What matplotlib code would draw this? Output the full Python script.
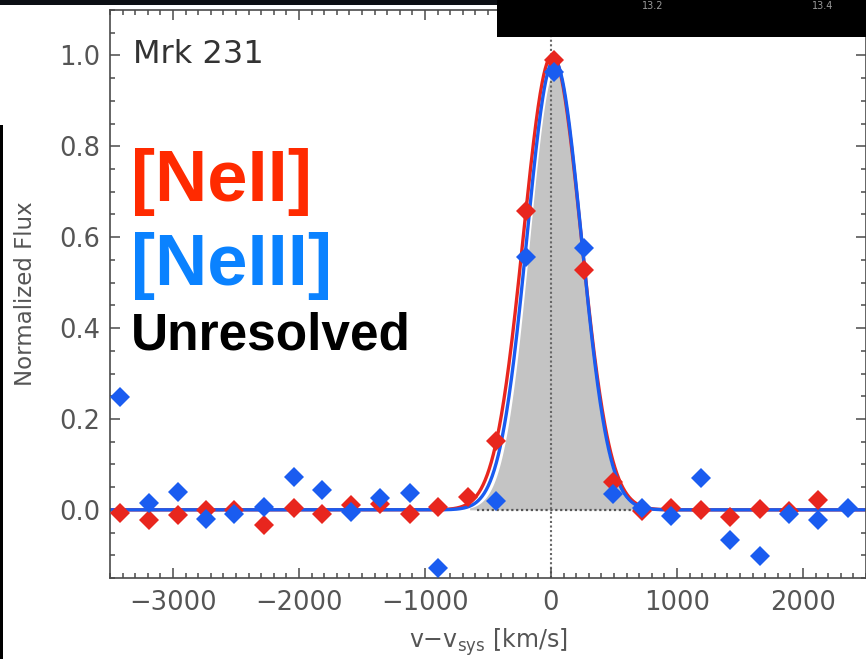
import numpy as np
import matplotlib
matplotlib.use('Agg')
import matplotlib.pyplot as plt
from matplotlib.patches import Rectangle

# data
red_v = [-3421, -3190, -2960, -2738, -2516, -2278, -2040, -1817, -1587, -1357,
         -1119, -897, -659, -437, -198, 24, 262, 492, 722, 952, 1190, 1421,
         1659, 1889, 2119]
red_f = [-0.007, -0.023, -0.011, 0.0, 0.0, -0.033, 0.004, -0.009, 0.011, 0.013,
         -0.009, 0.007, 0.028, 0.152, 0.658, 0.990, 0.527, 0.062, -0.002, 0.005,
         0.0, -0.016, 0.002, -0.002, 0.021]

blue_v = [-3421, -3190, -2960, -2738, -2516, -2278, -2040, -1817, -1587, -1357,
          -1119, -897, -437, -198, 24, 262, 492, 722, 952, 1190, 1421, 1659,
          1889, 2119, 2357]
blue_f = [0.248, 0.015, 0.040, -0.020, -0.009, 0.006, 0.073, 0.044, -0.004, 0.026,
          0.037, -0.128, 0.020, 0.557, 0.963, 0.576, 0.035, 0.005, -0.013, 0.071,
          -0.066, -0.101, -0.009, -0.022, 0.004]

# gaussian fits: amplitude, centre, sigma (km/s)
red_fit = (1.0, 10, 228)
blue_fit = (0.99, 25, 216)
unres_fit = (0.97, 35, 206)

xticks = [-3000, -2000, -1000, 0, 1000, 2000]
yticks = [0.0, 0.2, 0.4, 0.6, 0.8, 1.0]

RED = '#e8261e'
BLUE = '#1a5cf0'
TICK = '#4a4a4a'


def gauss(x, p):
    a, c, s = p
    return a * np.exp(-0.5 * ((x - c) / s) ** 2)


W, H = 866, 659
fig = plt.figure(figsize=(W / 100, H / 100), dpi=100)
fig.patch.set_facecolor('white')
ax = fig.add_axes([110 / W, 1 - 578 / H, 756 / W, 568 / H])

vv = np.linspace(-3500, 2500, 1500)
g = gauss(vv, unres_fit)
ax.fill_between(vv, 0, g, where=g > 0.004, color='#c4c4c4', lw=0, zorder=1)
ax.plot([-590, 660], [0, 0], color='#555555', ls=(0, (1, 1.2)), lw=1.6, zorder=1.5)
ax.axvline(0, color='#666666', ls=(0, (1, 1.2)), lw=1.5, zorder=1.5)

ax.plot(vv, gauss(vv, red_fit), color=RED, lw=2.4, zorder=2)
ax.plot(vv, gauss(vv, blue_fit), color=BLUE, lw=2.4, zorder=2.1)

ax.plot(red_v, red_f, 'D', color=RED, ms=10.5, mew=0, zorder=3)
ax.plot(blue_v, blue_f, 'D', color=BLUE, ms=10.5, mew=0, zorder=3.1)

ax.set_xlim(-3500, 2500)
ax.set_ylim(-0.15, 1.1)
ax.set_xticks(xticks)
ax.set_yticks(yticks)
ax.set_xticks(np.arange(-3500, 2501, 100), minor=True)
ax.set_yticks(np.arange(-0.15, 1.101, 0.05), minor=True)
ax.set_yticklabels([f'{t:.1f}' for t in yticks])
ax.tick_params(which='both', direction='in', top=True, right=True, color=TICK,
               width=1.1)
ax.tick_params(which='major', length=7.5)
ax.tick_params(which='minor', length=3.6)
ax.tick_params(axis='x', labelsize=18.5, labelcolor='#555555', pad=9)
ax.tick_params(axis='y', labelsize=18.5, labelcolor='#555555', pad=7)
for sp in ax.spines.values():
    sp.set_color(TICK)
    sp.set_linewidth(1.2)

ax.set_xlabel(r'v$-$v$_{\rm sys}$ [km/s]', fontsize=17, color='#555555')
ax.xaxis.set_label_coords(0.5, -(626 - 578) / 568)
ax.set_ylabel('Normalized Flux', fontsize=16.5, color='#555555')
ax.yaxis.set_label_coords((37 - 110) / 756, 0.5)

fig.text(133 / W, 1 - 63 / H, 'Mrk 231', fontsize=23, color='#333333',
         va='baseline', ha='left')

# overlay labels
fig.text(131 / W, 1 - 201 / H, '[NeII]', fontsize=52, color='#ff2a00',
         family='Liberation Sans', weight='bold', va='baseline', ha='left')
fig.text(131 / W, 1 - 285 / H, '[NeIII]', fontsize=52, color='#0a82ff',
         family='Liberation Sans', weight='bold', va='baseline', ha='left')
fig.text(131 / W, 1 - 350 / H, 'Unresolved', fontsize=37, color='black',
         family='Liberation Sans', weight='bold', va='baseline', ha='left')

# dark framing bits from the screenshot
fig.add_artist(Rectangle((0, 1 - 5 / H), 1, 5 / H, transform=fig.transFigure,
                         color='#0c0f14', lw=0, zorder=10))
fig.add_artist(Rectangle((497 / W, 1 - 37 / H), 1 - 497 / W, 37 / H,
                         transform=fig.transFigure, color='black', lw=0, zorder=10))
fig.add_artist(Rectangle((0, 0), 2.5 / W, 1 - 125 / H, transform=fig.transFigure,
                         color='black', lw=0, zorder=10))
fig.text(653 / W, 1 - 1 / H, '13.2', fontsize=7, color='#9a9a9a', ha='center',
         va='top', zorder=11)
fig.text(823 / W, 1 - 1 / H, '13.4', fontsize=7, color='#9a9a9a', ha='center',
         va='top', zorder=11)

fig.savefig('out.png', dpi=100)
